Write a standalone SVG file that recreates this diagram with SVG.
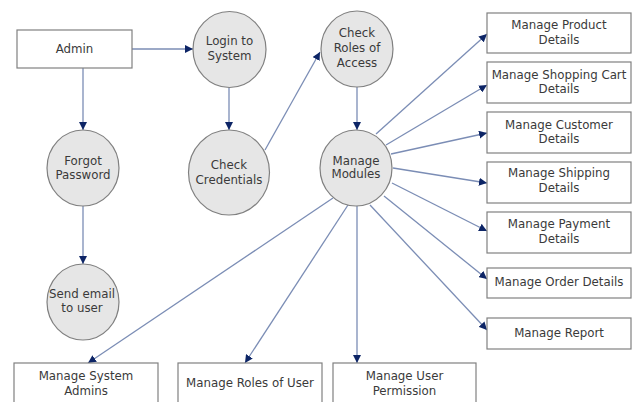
<svg xmlns="http://www.w3.org/2000/svg" width="632" height="402" viewBox="0 0 632 402">
<defs>
<marker id="ah" viewBox="0 0 10 10" refX="10" refY="5" markerWidth="8" markerHeight="8" markerUnits="userSpaceOnUse" orient="auto">
<path d="M0,0 L10,5 L0,10 Z" fill="#0d2566"/>
</marker>
<style>
.box{fill:#ffffff;stroke:#808080;stroke-width:1.2}
.proc{fill:#e6e6e6;stroke:#808080;stroke-width:1.2}
.t{font-family:"DejaVu Sans",Verdana,sans-serif;font-size:11.8px;fill:#3a3a3a;text-anchor:middle}
.c{fill:none;stroke:#7b8db5;stroke-width:1.3;marker-end:url(#ah)}
</style>
</defs>
<rect width="632" height="402" fill="#ffffff"/>
<g id="connectors">
<line class="c" x1="132" y1="49" x2="193" y2="49"/>
<line class="c" x1="83" y1="68" x2="83" y2="130"/>
<line class="c" x1="83" y1="206" x2="83" y2="264"/>
<line class="c" x1="229" y1="87" x2="229" y2="130"/>
<line class="c" x1="265" y1="150" x2="320" y2="52"/>
<line class="c" x1="357" y1="87" x2="357" y2="130"/>
<line class="c" x1="376" y1="134" x2="487" y2="34"/>
<line class="c" x1="386" y1="145" x2="487" y2="85"/>
<line class="c" x1="391" y1="154" x2="487" y2="133"/>
<line class="c" x1="393" y1="168" x2="487" y2="183"/>
<line class="c" x1="392" y1="183" x2="487" y2="231"/>
<line class="c" x1="384" y1="196" x2="487" y2="279"/>
<line class="c" x1="370" y1="205" x2="487" y2="330"/>
<line class="c" x1="333" y1="198" x2="88" y2="363"/>
<line class="c" x1="348" y1="205" x2="245" y2="363"/>
<line class="c" x1="357" y1="206" x2="357" y2="363"/>
</g>
<g id="admin"><rect class="box" x="17" y="30" width="115" height="38"/><text class="t" x="74.5" y="53">Admin</text></g>
<g id="login"><ellipse class="proc" cx="229.5" cy="49.5" rx="36.5" ry="38"/><text class="t" x="229.5" y="45">Login to</text><text class="t" x="229.5" y="60">System</text></g>
<g id="forgot"><ellipse class="proc" cx="83" cy="168" rx="36" ry="38"/><text class="t" x="83" y="165">Forgot</text><text class="t" x="83" y="179">Password</text></g>
<g id="sendemail"><ellipse class="proc" cx="83" cy="302" rx="36" ry="38"/><text class="t" x="82" y="298">Send email</text><text class="t" x="82" y="312">to user</text></g>
<g id="checkcred"><ellipse class="proc" cx="229" cy="172.5" rx="40.5" ry="42.5"/><text class="t" x="229" y="169">Check</text><text class="t" x="229" y="184">Credentials</text></g>
<g id="checkroles"><ellipse class="proc" cx="357" cy="49" rx="36" ry="38"/><text class="t" x="357" y="37">Check</text><text class="t" x="357" y="52">Roles of</text><text class="t" x="357" y="67">Access</text></g>
<g id="modules"><ellipse class="proc" cx="356" cy="168" rx="36" ry="38"/><text class="t" x="356" y="165">Manage</text><text class="t" x="356" y="178">Modules</text></g>
<g id="product"><rect class="box" x="487" y="13" width="144" height="40"/><text class="t" x="559" y="29">Manage Product</text><text class="t" x="559" y="44">Details</text></g>
<g id="cart"><rect class="box" x="487" y="62" width="144" height="41"/><text class="t" x="559" y="79">Manage Shopping Cart</text><text class="t" x="559" y="93">Details</text></g>
<g id="customer"><rect class="box" x="487" y="112" width="144" height="41"/><text class="t" x="559" y="129">Manage Customer</text><text class="t" x="559" y="143">Details</text></g>
<g id="shipping"><rect class="box" x="487" y="162" width="144" height="41"/><text class="t" x="559" y="177">Manage Shipping</text><text class="t" x="559" y="192">Details</text></g>
<g id="payment"><rect class="box" x="487" y="212" width="144" height="41"/><text class="t" x="559" y="228">Manage Payment</text><text class="t" x="559" y="243">Details</text></g>
<g id="order"><rect class="box" x="487" y="268" width="144" height="30"/><text class="t" x="559" y="286">Manage Order Details</text></g>
<g id="report"><rect class="box" x="487" y="318" width="144" height="31"/><text class="t" x="559" y="337">Manage Report</text></g>
<g id="sysadmins"><rect class="box" x="14" y="363" width="144" height="50"/><text class="t" x="86" y="380">Manage System</text><text class="t" x="86" y="395">Admins</text></g>
<g id="rolesofuser"><rect class="box" x="178" y="363" width="144" height="50"/><text class="t" x="250" y="387">Manage Roles of User</text></g>
<g id="permission"><rect class="box" x="333" y="363" width="143" height="50"/><text class="t" x="404.5" y="380">Manage User</text><text class="t" x="404.5" y="395">Permission</text></g>
</svg>
